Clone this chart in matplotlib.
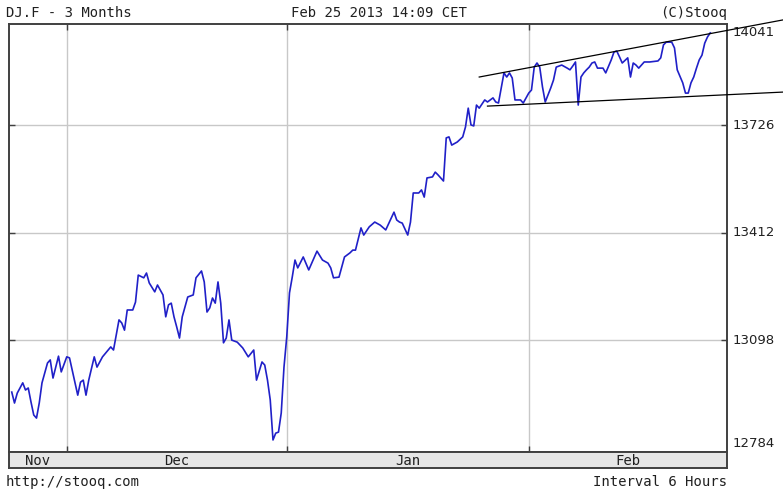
import matplotlib
matplotlib.use("Agg")
import matplotlib.pyplot as plt
from matplotlib.transforms import blended_transform_factory

# ---- data (6-hour bars, bar index from start of window) ----
bar_index = [1, 2, 3, 5, 6, 7, 8, 9, 10, 11, 12, 14, 15, 16, 17, 18, 19, 21, 22, 24,
             25, 26, 27, 28, 29, 31, 32, 34, 37, 38, 40, 41, 42, 43, 45, 46, 47, 49, 50, 51,
             53, 54, 56, 57, 58, 59, 60, 61, 62, 63, 65, 67, 68, 70, 71, 72, 73, 74, 75, 76,
             77, 78, 79, 80, 81, 83, 85, 87, 89, 90, 92, 93, 94, 95, 96, 97, 98, 99, 100, 101,
             102, 103, 104, 105, 107, 109, 112, 114, 116, 117, 118, 120, 122, 124, 125, 126, 128, 129, 131, 133,
             135, 137, 140, 141, 142, 143, 145, 146, 147, 149, 150, 151, 152, 154, 155, 156, 158, 159, 160, 161,
             163, 165, 166, 167, 168, 169, 170, 171, 173, 174, 176, 177, 178, 179, 180, 181, 182, 183, 184, 186,
             187, 189, 190, 191, 192, 193, 194, 195, 197, 198, 199, 201, 203, 204, 205, 206, 207, 208, 209, 210,
             211, 212, 213, 214, 216, 217, 219, 220, 221, 222, 223, 225, 226, 227, 228, 229, 231, 233, 236, 237,
             238, 239, 241, 242, 243, 245, 246, 247, 248, 249, 250, 251, 252, 253, 254, 255]
price = [12946, 12914, 12943, 12973, 12952, 12958, 12917, 12879, 12870, 12914, 12973, 13031, 13040, 12987, 13019, 13051, 13005, 13049, 13046, 12973,
         12937, 12975, 12981, 12937, 12981, 13049, 13019, 13049, 13078, 13069, 13157, 13148, 13127, 13186, 13186, 13209, 13288, 13280, 13294, 13265,
         13239, 13259, 13230, 13166, 13201, 13206, 13166, 13136, 13104, 13166, 13224, 13230, 13280, 13300, 13268, 13180, 13192, 13221, 13206, 13268,
         13206, 13090, 13104, 13157, 13098, 13092, 13075, 13049, 13069, 12981, 13034, 13025, 12981, 12923, 12806, 12826, 12829, 12885, 13019, 13107,
         13236, 13282, 13332, 13309, 13341, 13303, 13358, 13332, 13323, 13309, 13280, 13282, 13341, 13353, 13361, 13361, 13426, 13405, 13429, 13443,
         13434, 13420, 13472, 13449, 13443, 13440, 13405, 13443, 13528, 13528, 13537, 13516, 13572, 13575, 13589, 13581, 13563, 13689, 13692, 13668,
         13677, 13692, 13721, 13776, 13727, 13724, 13785, 13776, 13800, 13794, 13806, 13794, 13791, 13835, 13879, 13867, 13879, 13864, 13800, 13800,
         13791, 13820, 13829, 13896, 13908, 13896, 13838, 13794, 13835, 13858, 13896, 13902, 13893, 13888, 13899, 13911, 13785, 13867, 13879, 13888,
         13896, 13908, 13911, 13893, 13893, 13879, 13917, 13940, 13943, 13926, 13908, 13923, 13867, 13908, 13902, 13893, 13911, 13911, 13914, 13923,
         13961, 13969, 13969, 13952, 13888, 13850, 13820, 13820, 13850, 13867, 13893, 13917, 13931, 13966, 13984, 13996]

trend_upper_x = [171, 281.5]
trend_upper_y = [13867, 14034]
trend_lower_x = [174, 281.5]
trend_lower_y = [13782, 13823]

y_ticks = [12784, 13098, 13412, 13726, 14041]
y_tick_labels = ["12784", "13098", "13412", "13726", "14041"]
month_names = ["Nov", "Dec", "Jan", "Feb"]
month_edges = [0, 21.1, 101.1, 189.1, 261.1]

# ---- layout ----
W, H = 783, 492
fig = plt.figure(figsize=(W / 100, H / 100), dpi=100)
L, R, T, B, SB = 9, 727, 24, 452, 468
mono = "DejaVu Sans Mono"
frame_col = "#404040"
grid_col = "#c8c8c8"

ax = fig.add_axes([L / W, 1 - B / H, (R - L) / W, (B - T) / H])
ax.set_xlim(month_edges[0], month_edges[-1])
ymin, ymax = 12770.85, 14022.0
ax.set_ylim(ymin, ymax)

for v in y_ticks[1:4]:
    ax.axhline(v, color=grid_col, lw=1, zorder=0)
for e in month_edges[1:4]:
    ax.axvline(e, color=grid_col, lw=1, zorder=0)

ax.set_xticks(month_edges[1:4])
ax.set_yticks(y_ticks[1:4])
ax.tick_params(direction="in", length=4, width=1, color=frame_col,
               top=True, right=True, bottom=True, left=True,
               labelbottom=False, labelleft=False)
for s in ax.spines.values():
    s.set_color(frame_col)
    s.set_linewidth(1.4)

ax.plot(bar_index, price, color="#2020c8", lw=1.2, zorder=3)
ax.plot(trend_upper_x, trend_upper_y, color="black", lw=0.9, clip_on=False, zorder=4)
ax.plot(trend_lower_x, trend_lower_y, color="black", lw=0.9, clip_on=False, zorder=4)

# right-side value labels
trans = blended_transform_factory(ax.transAxes, ax.transData)
px = (ymax - ymin) / (B - T)
for v, lab in zip(y_ticks, y_tick_labels):
    yy = min(max(v, ymin + 9 * px), ymax - 9 * px)
    ax.text(1 + 6 / (R - L), yy, lab, transform=trans, ha="left", va="center",
            fontsize=9.5, family="DejaVu Sans", color="#202020", clip_on=False)

# month strip
ax2 = fig.add_axes([L / W, 1 - SB / H, (R - L) / W, (SB - B) / H])
ax2.set_facecolor("#e6e6e6")
ax2.set_xlim(month_edges[0], month_edges[-1])
ax2.set_ylim(0, 1)
ax2.set_xticks([])
ax2.set_yticks([])
for s in ax2.spines.values():
    s.set_color(frame_col)
    s.set_linewidth(1.4)
for i, name in enumerate(month_names):
    ax2.text((month_edges[i] + month_edges[i + 1]) / 2, 0.45, name, ha="center",
             va="center", family=mono, fontsize=10, color="#202020")

# header / footer texts
fig.text(6 / W, 1 - 13 / H, "DJ.F - 3 Months", ha="left", va="center", family=mono, fontsize=10, color="#202020")
fig.text(379 / W, 1 - 13 / H, "Feb 25 2013 14:09 CET", ha="center", va="center", family=mono, fontsize=10, color="#202020")
fig.text(727 / W, 1 - 13 / H, "(C)Stooq", ha="right", va="center", family=mono, fontsize=10, color="#202020")
fig.text(6 / W, 1 - 482 / H, "http://stooq.com", ha="left", va="center", family=mono, fontsize=10, color="#202020")
fig.text(727 / W, 1 - 482 / H, "Interval 6 Hours", ha="right", va="center", family=mono, fontsize=10, color="#202020")

fig.savefig("out.png", dpi=100)
